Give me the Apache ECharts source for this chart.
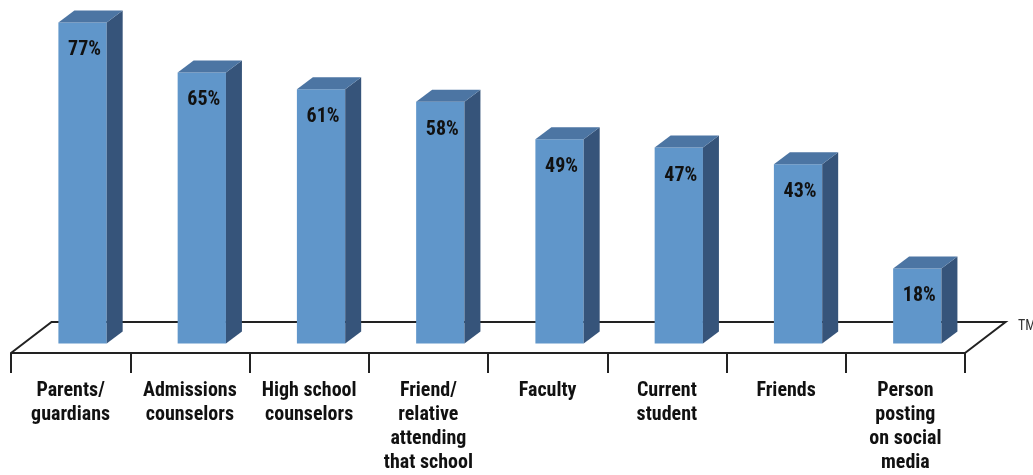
<!DOCTYPE html>
<html>
<head>
<meta charset="utf-8">
<script src="https://cdn.jsdelivr.net/npm/echarts@6/dist/echarts.min.js"></script>
<style>
html,body{margin:0;padding:0;background:#fff;}
#chart{width:1033px;height:475px;}
</style>
</head>
<body>
<div id="chart"></div>
<script>
const categories = [
  'Parents/\nguardians',
  'Admissions\ncounselors',
  'High school\ncounselors',
  'Friend/\nrelative\nattending\nthat school',
  'Faculty',
  'Current\nstudent',
  'Friends',
  'Person\nposting\non social\nmedia'
];
const values = [77, 65, 61, 58, 49, 47, 43, 18];
const valueLabels = ['77%', '65%', '61%', '58%', '49%', '47%', '43%', '18%'];

const FONT = '"Liberation Sans Narrow", "Roboto Condensed", "DejaVu Sans Condensed", sans-serif';
const FRONT = '#6096CA', SIDE = '#36547A', TOP = '#4C75A3';

function renderBar(params, api) {
  const idx = api.value(0);
  const val = api.value(1);
  const base = api.coord([idx, 0]);
  const top = api.coord([idx, val]);
  const bw = api.size([1, 0])[0];
  const fw = bw * 0.405;
  const dx = bw * 0.134, dy = -bw * 0.1;
  const cx = base[0] + bw * 0.1;
  const x0 = cx - fw / 2, x1 = cx + fw / 2;
  const yb = base[1] - bw * 0.08, yt = top[1] - bw * 0.08;
  return {
    type: 'group',
    children: [
      { type: 'polygon', shape: { points: [[x0, yt], [x1, yt], [x1, yb], [x0, yb]] }, style: { fill: FRONT } },
      { type: 'polygon', shape: { points: [[x1, yt], [x1 + dx, yt + dy], [x1 + dx, yb + dy], [x1, yb]] }, style: { fill: SIDE } },
      { type: 'polygon', shape: { points: [[x0, yt], [x0 + dx, yt + dy], [x1 + dx, yt + dy], [x1, yt]] }, style: { fill: TOP } },
      { type: 'text', style: { text: valueLabels[params.dataIndex], x: cx + 2, y: yt + 18, align: 'center', verticalAlign: 'top', font: 'bold 20px ' + FONT, fill: '#111' } }
    ]
  };
}

function renderFloor(params, api) {
  const n = categories.length;
  const bw = api.size([1, 0])[0];
  const first = api.coord([0, 0]);
  const last = api.coord([n - 1, 0]);
  const xl = first[0] - bw / 2, xr = last[0] + bw / 2, y = first[1];
  const ddx = bw * 0.34, ddy = -bw * 0.26;
  return {
    type: 'polyline',
    shape: { points: [[xl, y], [xl + ddx, y + ddy], [xr + ddx, y + ddy], [xr, y]] },
    style: { stroke: '#222', lineWidth: 2, fill: null }
  };
}

const chart = echarts.init(document.getElementById('chart'));
chart.setOption({
  animation: false,
  backgroundColor: '#fff',
  grid: { left: 11, right: 68, top: 19.5, bottom: 122, containLabel: false, outerBoundsMode: 'none' },
  xAxis: {
    type: 'category',
    data: categories,
    boundaryGap: true,
    axisLine: { show: true, lineStyle: { color: '#222', width: 2 } },
    axisTick: { show: true, length: 20, interval: 0, lineStyle: { color: '#222', width: 2 } },
    axisLabel: { interval: 0, margin: 26, fontFamily: FONT, fontWeight: 'bold', fontSize: 20, lineHeight: 24, color: '#111', verticalAlign: 'top' },
    splitLine: { show: false }
  },
  yAxis: { type: 'value', min: 0, max: 80, show: false, splitLine: { show: false } },
  graphic: [
    { type: 'text', left: 1018, top: 319, style: { text: 'TM', font: '14px ' + FONT, fill: '#333' } }
  ],
  series: [
    { type: 'custom', z: 1, renderItem: renderFloor, data: [[0, 0]], silent: true },
    { type: 'custom', z: 3, renderItem: renderBar, data: values.map((v, i) => [i, v]), encode: { x: 0, y: 1 } }
  ]
});
</script>
</body>
</html>
